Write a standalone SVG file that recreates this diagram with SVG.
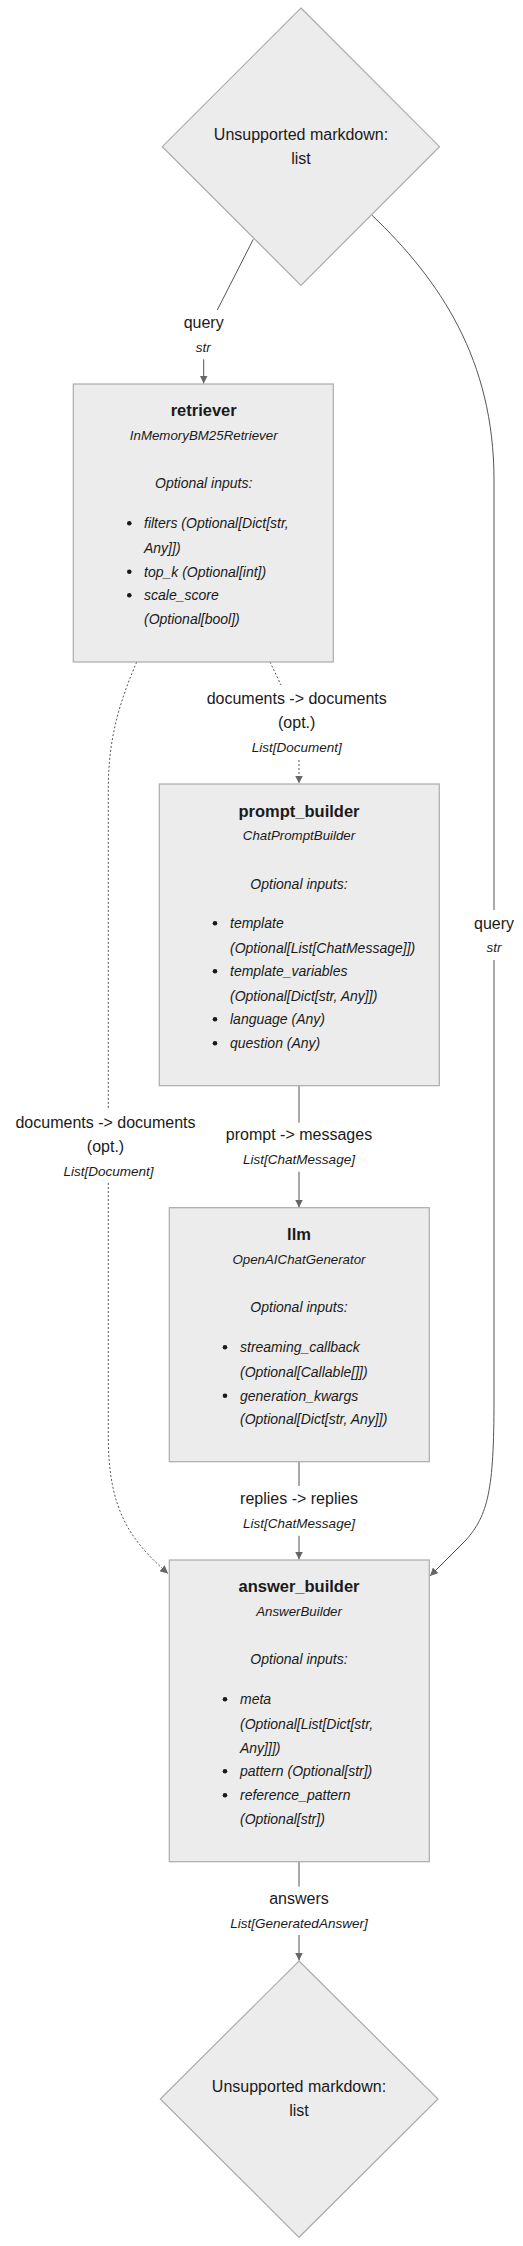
<svg xmlns="http://www.w3.org/2000/svg" width="523" height="2246" viewBox="0 0 523 2246">
<defs>
<style>
.node{fill:#ECECEC;stroke:#ABABAB;stroke-width:1.2}
.t{font-family:"Liberation Sans",Arial,sans-serif;fill:#1a1a1a;text-anchor:middle;dominant-baseline:central}
.title{font-size:16.5px;font-weight:bold}
.cls{font-size:13.3px;font-style:italic}
.opt{font-size:14px;font-style:italic}
.li{font-family:"Liberation Sans",Arial,sans-serif;fill:#1a1a1a;font-size:14px;font-style:italic;dominant-baseline:central}
.dm{font-size:16px}
.el{font-size:16px}
.ty{font-size:13.5px;font-style:italic}
.bul{fill:#1a1a1a}
.e{fill:none;stroke:#555;stroke-width:1}
.d{stroke-dasharray:2 2}
</style>
<marker id="ah" viewBox="0 0 10 10" refX="10" refY="5" markerWidth="8" markerHeight="8" markerUnits="userSpaceOnUse" orient="auto">
<path d="M0,0 L10,5 L0,10 z" fill="#666"/>
</marker>
</defs>

<g id="connectors">
<path class="e" d="M253.3,239.3 L217.3,310"/>
<path class="e" d="M203.7,359.3 L203.7,383.5" marker-end="url(#ah)"/>
<text class="t el" x="203.7" y="322.7">query</text>
<text class="t ty" x="203.3" y="347.3">str</text>

<path class="e" d="M371.7,215 C440,280 494,360 494,480 L494,910"/>
<path class="e" d="M494,960 L494,1400 C494,1490 488,1515 466,1540 L430,1576" marker-end="url(#ah)"/>
<text class="t el" x="494" y="923.3">query</text>
<text class="t ty" x="494" y="947.7">str</text>

<path class="e d" d="M270,662 L281,685"/>
<path class="e d" d="M299,760 L299,783.5" marker-end="url(#ah)"/>
<text class="t el" x="296.7" y="698.3">documents -&gt; documents</text>
<text class="t el" x="296.7" y="722.7">(opt.)</text>
<text class="t ty" x="296.7" y="747.3">List[Document]</text>

<path class="e d" d="M136.7,662 C116,710 108.3,745 108.3,790 L108.3,1110"/>
<path class="e d" d="M108.3,1183 L108.3,1440 C109,1510 130,1540 168,1573.5" marker-end="url(#ah)"/>
<text class="t el" x="105.5" y="1122.3">documents -&gt; documents</text>
<text class="t el" x="105.5" y="1146.7">(opt.)</text>
<text class="t ty" x="108.5" y="1171.7">List[Document]</text>

<path class="e" d="M299,1085.7 L299,1122.7"/>
<path class="e" d="M299,1171.7 L299,1207.5" marker-end="url(#ah)"/>
<text class="t el" x="299" y="1134.3">prompt -&gt; messages</text>
<text class="t ty" x="299" y="1159.3">List[ChatMessage]</text>

<path class="e" d="M299,1461.7 L299,1486"/>
<path class="e" d="M299,1535.7 L299,1559.5" marker-end="url(#ah)"/>
<text class="t el" x="299" y="1498.3">replies -&gt; replies</text>
<text class="t ty" x="299" y="1523.3">List[ChatMessage]</text>

<path class="e" d="M299,1861.7 L299,1886.7"/>
<path class="e" d="M299,1935 L299,1960.5" marker-end="url(#ah)"/>
<text class="t el" x="299" y="1898.3">answers</text>
<text class="t ty" x="299" y="1923.3">List[GeneratedAnswer]</text>
</g>

<g id="input">
<polygon class="node" points="301,8 439.5,146.7 301,285.3 162.3,146.7"/>
<text class="t dm" x="301" y="134.3">Unsupported markdown:</text>
<text class="t dm" x="301" y="158">list</text>
</g>

<g id="retriever">
<rect class="node" x="73.3" y="384" width="260" height="278"/>
<text class="t title" x="203.7" y="410">retriever</text>
<text class="t cls" x="203.7" y="435.3">InMemoryBM25Retriever</text>
<text class="t opt" x="203.7" y="483.3">Optional inputs:</text>
<circle class="bul" cx="129.3" cy="523.3" r="2.3"/>
<text class="li" x="144" y="523.3">filters (Optional[Dict[str,</text>
<text class="li" x="144" y="547.7">Any]])</text>
<circle class="bul" cx="129.3" cy="571.7" r="2.3"/>
<text class="li" x="144" y="571.7">top_k (Optional[int])</text>
<circle class="bul" cx="129.3" cy="595.3" r="2.3"/>
<text class="li" x="144" y="595.3">scale_score</text>
<text class="li" x="144" y="619.3">(Optional[bool])</text>
</g>

<g id="prompt_builder">
<rect class="node" x="159.3" y="784" width="280" height="301.7"/>
<text class="t title" x="299" y="810.7">prompt_builder</text>
<text class="t cls" x="299" y="835.7">ChatPromptBuilder</text>
<text class="t opt" x="299" y="883.7">Optional inputs:</text>
<circle class="bul" cx="215" cy="923.3" r="2.3"/>
<text class="li" x="230" y="923.3">template</text>
<text class="li" x="230" y="947.7">(Optional[List[ChatMessage]])</text>
<circle class="bul" cx="215" cy="971.3" r="2.3"/>
<text class="li" x="230" y="971.3">template_variables</text>
<text class="li" x="230" y="995.7">(Optional[Dict[str, Any]])</text>
<circle class="bul" cx="215" cy="1019.3" r="2.3"/>
<text class="li" x="230" y="1019.3">language (Any)</text>
<circle class="bul" cx="215" cy="1043.3" r="2.3"/>
<text class="li" x="230" y="1043.3">question (Any)</text>
</g>

<g id="llm">
<rect class="node" x="169.3" y="1207.7" width="260" height="254"/>
<text class="t title" x="299" y="1234.3">llm</text>
<text class="t cls" x="299" y="1259.3">OpenAIChatGenerator</text>
<text class="t opt" x="299" y="1307.3">Optional inputs:</text>
<circle class="bul" cx="225" cy="1347.3" r="2.3"/>
<text class="li" x="240" y="1347.3">streaming_callback</text>
<text class="li" x="240" y="1371.7">(Optional[Callable[]])</text>
<circle class="bul" cx="225" cy="1395.7" r="2.3"/>
<text class="li" x="240" y="1395.7">generation_kwargs</text>
<text class="li" x="240" y="1419.3">(Optional[Dict[str, Any]])</text>
</g>

<g id="answer_builder">
<rect class="node" x="169.3" y="1560" width="260" height="301.7"/>
<text class="t title" x="299" y="1586">answer_builder</text>
<text class="t cls" x="299" y="1611.3">AnswerBuilder</text>
<text class="t opt" x="299" y="1659.3">Optional inputs:</text>
<circle class="bul" cx="225" cy="1699.3" r="2.3"/>
<text class="li" x="240" y="1699.3">meta</text>
<text class="li" x="240" y="1723.7">(Optional[List[Dict[str,</text>
<text class="li" x="240" y="1747.7">Any]]])</text>
<circle class="bul" cx="225" cy="1771.3" r="2.3"/>
<text class="li" x="240" y="1771.3">pattern (Optional[str])</text>
<circle class="bul" cx="225" cy="1795.3" r="2.3"/>
<text class="li" x="240" y="1795.3">reference_pattern</text>
<text class="li" x="240" y="1819.3">(Optional[str])</text>
</g>

<g id="output">
<polygon class="node" points="299,1961 438,2099 299,2237.3 160.3,2099"/>
<text class="t dm" x="299" y="2086.7">Unsupported markdown:</text>
<text class="t dm" x="299" y="2110">list</text>
</g>
</svg>
